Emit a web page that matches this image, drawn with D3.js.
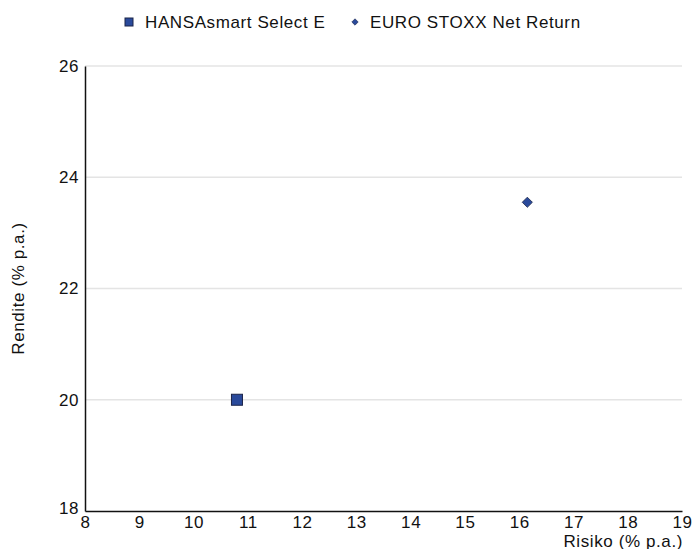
<!DOCTYPE html>
<html lang="de">
<head>
<meta charset="UTF-8">
<title>Risiko / Rendite</title>
<script src="https://d3js.org/d3.v7.min.js"></script>
<style>
  body { margin: 0; background: #fff; }
  svg text { font-family: "Liberation Sans", Arial, sans-serif; fill: #111; font-size: 17px; letter-spacing: 0.6px; }
  .grid line { stroke: #e4e4e4; stroke-width: 1.5px; }
  .axis path, .axis line { stroke: #111; }
</style>
</head>
<body>
<div id="chart"></div>
<script>
// series
var seriesNames = ['HANSAsmart Select E', 'EURO STOXX Net Return'];
var risk = [10.8, 16.15];     // x: Risiko (% p.a.)
var returns = [20.0, 23.55];  // y: Rendite (% p.a.)
var xTicks = [8, 9, 10, 11, 12, 13, 14, 15, 16, 17, 18, 19];
var yTicks = [18, 20, 22, 24, 26];

var width = 692, height = 549;
var margin = {left: 85, right: 10, top: 66, bottom: 38};

var svg = d3.select('#chart').append('svg')
    .attr('width', width)
    .attr('height', height);

var x = d3.scaleLinear().domain([8, 19]).range([margin.left, width - margin.right]);
var y = d3.scaleLinear().domain([18, 26]).range([height - margin.bottom, margin.top]);

// horizontal gridlines
svg.append('g').attr('class', 'grid')
  .selectAll('line').data(yTicks.slice(1)).enter().append('line')
    .attr('x1', x(8)).attr('x2', x(19))
    .attr('y1', function (d) { return y(d); })
    .attr('y2', function (d) { return y(d); });

// x axis
var xAxis = svg.append('g').attr('class', 'axis')
    .attr('transform', 'translate(0,' + y(18) + ')')
    .call(d3.axisBottom(x).tickValues(xTicks).tickSize(0).tickPadding(5));
xAxis.select('.domain').attr('stroke-width', 1.5);
xAxis.selectAll('text').style('font-size', '17px');

// y axis
var yAxis = svg.append('g').attr('class', 'axis')
    .attr('transform', 'translate(' + x(8) + ',0)')
    .call(d3.axisLeft(y).tickValues(yTicks).tickSize(0).tickPadding(6));
yAxis.select('.domain').attr('stroke-width', 1.5);
yAxis.selectAll('text').style('font-size', '17px')
    .attr('dy', function (d) { return d === 18 ? '0.15em' : '0.32em'; });

// axis titles (the reference crops the x title at the bottom edge)
svg.append('text')
    .attr('x', x(19) + 1).attr('y', 547)
    .attr('text-anchor', 'end')
    .text('Risiko (% p.a.)');

svg.append('text')
    .attr('transform', 'translate(24,' + y(22) + ') rotate(-90)')
    .attr('text-anchor', 'middle')
    .text('Rendite (% p.a.)');

// points
var fill = '#2a4a9b', stroke = '#1b2448';
svg.append('rect')
    .attr('x', x(risk[0]) - 5.5).attr('y', y(returns[0]) - 5.5)
    .attr('width', 11).attr('height', 11)
    .attr('fill', fill).attr('stroke', stroke);

svg.append('path')
    .attr('d', d3.symbol().type(d3.symbolDiamond2).size(66)())
    .attr('transform', 'translate(' + x(risk[1]) + ',' + y(returns[1]) + ')')
    .attr('fill', fill).attr('stroke', stroke).attr('stroke-width', 0.8);

// legend
var legend = svg.append('g');
legend.append('rect')
    .attr('x', 125).attr('y', 18).attr('width', 8).attr('height', 8)
    .attr('fill', fill).attr('stroke', stroke);
legend.append('text')
    .attr('x', 145).attr('y', 28)
    .text(seriesNames[0]);
legend.append('path')
    .attr('d', d3.symbol().type(d3.symbolDiamond2).size(26)())
    .attr('transform', 'translate(355,22)')
    .attr('fill', fill).attr('stroke', stroke).attr('stroke-width', 0.6);
legend.append('text')
    .attr('x', 370).attr('y', 28)
    .text(seriesNames[1]);
</script>
</body>
</html>
